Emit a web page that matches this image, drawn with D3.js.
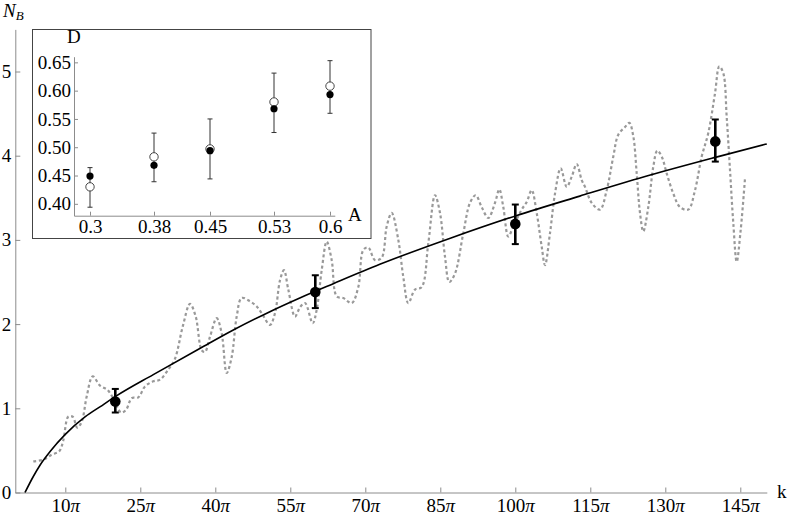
<!DOCTYPE html>
<html>
<head>
<meta charset="utf-8" />
<title></title>
<style>
html, body {
    padding: 0px;
    margin: 0px;
    background: #fff;
}
</style>
</head>
<body>
<svg id="chart" width="789" height="518" font-family="'Liberation Serif', 'Times New Roman', serif"></svg>

<script src="https://cdnjs.cloudflare.com/ajax/libs/d3/7.8.5/d3.min.js"></script>
<script>
// main plot: k in units of pi
var xTicks = [10, 25, 40, 55, 70, 85, 100, 115, 130, 145];
var yTicks = [0, 1, 2, 3, 4, 5];

// fitted curve
var fitK = [1.94, 3.6, 5, 7, 10, 14, 17, 20.3, 27.6, 36.9, 43.6, 50.3, 56.9, 63.6, 72.9, 87, 100.3, 112.9, 127, 140, 150.3];
var fitN = [0, 0.19, 0.33, 0.49, 0.69, 0.9, 1.02, 1.15, 1.4, 1.71, 1.93, 2.13, 2.31, 2.48, 2.71, 3.02, 3.29, 3.52, 3.77, 3.98, 4.14];

// dotted grey series
var dotK = [3.6, 5.6, 7.28, 8.8, 9.6, 10.6, 11.48, 12.4, 13.28, 14.28, 15.48, 16.94, 18.4, 19.6, 21.14, 22.14, 23.28, 24.6, 25.94, 27.6,
    28.94, 30.6, 31.94, 33.48, 34.94, 36.08, 37.28, 37.94, 38.94, 40.28, 41.28, 42.28, 43.28, 44.28, 45.28, 46.94, 48.28, 49.28, 50.94, 51.94,
    52.94, 53.74, 54.6, 55.94, 56.94, 57.94, 59.48, 60.28, 61.28, 62.28, 63.28, 64.28, 65.6, 67.28, 68.6, 69.6, 70.6, 71.94, 73.28, 74.28,
    75.28, 76.6, 77.6, 78.6, 79.94, 81.28, 82.6, 83.94, 84.94, 85.94, 86.8, 87.94, 89.6, 90.94, 92.08, 93.28, 94.6, 95.94, 96.8, 97.6,
    98.6, 99.6, 101.28, 102.28, 103.28, 104.28, 105.28, 105.94, 106.94, 107.94, 109.08, 110.28, 111.28, 112.28, 113.28, 113.94, 115.28, 116.94, 118.28, 119.6,
    120.6, 121.94, 122.8, 123.6, 124.28, 124.94, 125.6, 126.6, 127.6, 128.4, 129.28, 130.28, 131.6, 132.94, 134.6, 135.94, 137.28, 138.6, 139.94, 140.8,
    141.6, 142.28, 142.94, 143.6, 144.28, 145.08, 145.94];
var dotN = [0.37, 0.39, 0.45, 0.49, 0.62, 0.9, 0.9, 0.77, 0.84, 1.14, 1.38, 1.27, 1.22, 1.12, 0.95, 0.98, 1.12, 1.13, 1.26, 1.32,
    1.34, 1.46, 1.59, 1.97, 2.24, 2.09, 1.69, 1.67, 1.85, 2.07, 1.89, 1.42, 1.61, 2.09, 2.31, 2.27, 2.21, 2.13, 1.99, 2.13,
    2.52, 2.64, 2.41, 2.09, 2.2, 2.25, 2.01, 2.17, 2.64, 2.98, 2.76, 2.33, 2.31, 2.25, 2.44, 2.88, 2.91, 2.76, 2.79, 3.16,
    3.32, 3.0, 2.56, 2.25, 2.41, 2.44, 2.96, 3.53, 3.32, 2.8, 2.5, 2.6, 3.08, 3.44, 3.53, 3.39, 3.26, 3.44, 3.6, 3.39,
    3.04, 3.16, 3.36, 3.45, 3.59, 3.32, 2.92, 2.7, 3.08, 3.55, 3.85, 3.63, 3.75, 3.9, 3.71, 3.63, 3.44, 3.36, 3.59, 3.99,
    4.25, 4.34, 4.39, 4.23, 3.79, 3.32, 3.1, 3.39, 3.87, 4.06, 3.99, 3.79, 3.55, 3.39, 3.36, 3.59, 3.99, 4.27, 4.74, 5.06,
    4.98, 4.46, 3.83, 3.2, 2.74, 3.12, 3.73];

// large points with error bars
var ptK = [20, 60, 100, 140];
var ptN = [1.08, 2.38, 3.19, 4.17];
var ptLo = [0.95, 2.19, 2.95, 3.93];
var ptHi = [1.23, 2.58, 3.42, 4.43];

// inset
var insetA = [0.3, 0.38, 0.45, 0.53, 0.6];
var insetALabels = ["0.3", "0.38", "0.45", "0.53", "0.6"];
var insetDTicks = [0.40, 0.45, 0.50, 0.55, 0.60, 0.65];
var filledD = [0.449, 0.468, 0.494, 0.568, 0.593];
var openD = [0.430, 0.483, 0.497, 0.580, 0.608];
var openLo = [0.394, 0.439, 0.444, 0.526, 0.560];
var openHi = [0.464, 0.525, 0.550, 0.631, 0.653];

!(function(){
    "use strict"

    var FONT = "'Liberation Serif', 'Times New Roman', serif";
    var svg = d3.select("#chart");

    var x = d3.scaleLinear().domain([0, 150.3]).range([15.3, 766.8]);
    var y = d3.scaleLinear().domain([0, 5.5]).range([492.5, 29.4]);

    drawMainAxes();
    drawMainData();
    drawInset();

    function styleAxis(g, color) {
        g.attr("font-family", FONT).attr("font-size", 19);
        g.select(".domain").attr("stroke", color).attr("stroke-width", 1);
        g.selectAll(".tick line").attr("stroke", color).attr("stroke-width", 1);
        g.selectAll(".tick text").attr("fill", "#000");
    }

    function drawMainAxes() {
        var gx = svg.append("g")
            .attr("transform", "translate(0," + y(0) + ")")
            .call(d3.axisBottom(x).tickValues(xTicks).tickSizeInner(-5).tickSizeOuter(0).tickPadding(6.5));
        styleAxis(gx, "#8c8c8c");
        gx.selectAll(".tick text").each(function(d){
            var t = d3.select(this).text("");
            t.append("tspan").text(d);
            t.append("tspan").attr("font-style", "italic").text("\u03c0");
        });

        var gy = svg.append("g")
            .attr("transform", "translate(" + x(0) + ",0)")
            .call(d3.axisLeft(y).tickValues(yTicks).tickSizeInner(-5).tickSizeOuter(0).tickPadding(4).tickFormat(d3.format("d")));
        styleAxis(gy, "#8c8c8c");

        var nb = svg.append("text").attr("x", 3).attr("y", 17).attr("font-size", 19).attr("font-style", "italic");
        nb.append("tspan").text("N");
        nb.append("tspan").attr("font-size", 13).attr("dy", 3).text("B");

        svg.append("text").attr("x", 777).attr("y", 498).attr("font-size", 19).text("k");
    }

    function drawMainData() {
        var dotted = d3.line()
            .x(function(d){ return x(d[0]); })
            .y(function(d){ return y(d[1]); })
            .curve(d3.curveCatmullRom.alpha(0.5));

        svg.append("path")
            .datum(d3.zip(dotK, dotN))
            .attr("d", dotted)
            .attr("fill", "none")
            .attr("stroke", "#999")
            .attr("stroke-width", 2.2)
            .attr("stroke-dasharray", "3,2.6");

        var fit = d3.line()
            .x(function(d){ return x(d[0]); })
            .y(function(d){ return y(d[1]); })
            .curve(d3.curveMonotoneX);

        svg.append("path")
            .datum(d3.zip(fitK, fitN))
            .attr("d", fit)
            .attr("fill", "none")
            .attr("stroke", "#000")
            .attr("stroke-width", 1.6);

        var pts = d3.range(ptK.length);
        var g = svg.append("g");
        g.selectAll(null).data(pts).enter().append("line")
            .attr("x1", function(i){ return x(ptK[i]); })
            .attr("x2", function(i){ return x(ptK[i]); })
            .attr("y1", function(i){ return y(ptLo[i]); })
            .attr("y2", function(i){ return y(ptHi[i]); })
            .attr("stroke", "#000").attr("stroke-width", 2.6);
        [ptLo, ptHi].forEach(function(arr){
            g.selectAll(null).data(pts).enter().append("line")
                .attr("x1", function(i){ return x(ptK[i]) - 3.5; })
                .attr("x2", function(i){ return x(ptK[i]) + 3.5; })
                .attr("y1", function(i){ return y(arr[i]); })
                .attr("y2", function(i){ return y(arr[i]); })
                .attr("stroke", "#000").attr("stroke-width", 2);
        });
        g.selectAll(null).data(pts).enter().append("circle")
            .attr("cx", function(i){ return x(ptK[i]); })
            .attr("cy", function(i){ return y(ptN[i]); })
            .attr("r", 5.3)
            .attr("fill", "#000");
    }

    function drawInset() {
        var xi = d3.scaleLinear().domain([0.28, 0.606]).range([74, 334.8]);
        var yi = d3.scaleLinear().domain([0.379, 0.66]).range([215.7, 56.7]);

        svg.append("rect")
            .attr("x", 32.5).attr("y", 29.5)
            .attr("width", 338.5).attr("height", 209)
            .attr("fill", "#fff")
            .attr("stroke", "#444")
            .attr("stroke-width", 1);

        var gx = svg.append("g")
            .attr("transform", "translate(0," + yi.range()[0] + ")")
            .call(d3.axisBottom(xi).tickValues(insetA).tickSizeInner(-4).tickSizeOuter(0).tickPadding(4)
                .tickFormat(function(d, i){ return insetALabels[i]; }));
        styleAxis(gx, "#8c8c8c");

        var gy = svg.append("g")
            .attr("transform", "translate(" + xi.range()[0] + ",0)")
            .call(d3.axisLeft(yi).tickValues(insetDTicks).tickSizeInner(-4).tickSizeOuter(0).tickPadding(3)
                .tickFormat(d3.format(".2f")));
        styleAxis(gy, "#8c8c8c");

        svg.append("text").attr("x", 67).attr("y", 43).attr("font-size", 19).text("D");
        svg.append("text").attr("x", 348).attr("y", 221).attr("font-size", 19).text("A");

        var idx = d3.range(insetA.length);
        var g = svg.append("g");
        g.selectAll(null).data(idx).enter().append("line")
            .attr("x1", function(i){ return xi(insetA[i]); })
            .attr("x2", function(i){ return xi(insetA[i]); })
            .attr("y1", function(i){ return yi(openLo[i]); })
            .attr("y2", function(i){ return yi(openHi[i]); })
            .attr("stroke", "#333").attr("stroke-width", 1);
        [openLo, openHi].forEach(function(arr){
            g.selectAll(null).data(idx).enter().append("line")
                .attr("x1", function(i){ return xi(insetA[i]) - 2.5; })
                .attr("x2", function(i){ return xi(insetA[i]) + 2.5; })
                .attr("y1", function(i){ return yi(arr[i]); })
                .attr("y2", function(i){ return yi(arr[i]); })
                .attr("stroke", "#333").attr("stroke-width", 1);
        });
        g.selectAll(null).data(idx).enter().append("circle")
            .attr("cx", function(i){ return xi(insetA[i]); })
            .attr("cy", function(i){ return yi(openD[i]); })
            .attr("r", 4.2)
            .attr("fill", "#fff")
            .attr("stroke", "#444")
            .attr("stroke-width", 1);
        g.selectAll(null).data(idx).enter().append("circle")
            .attr("cx", function(i){ return xi(insetA[i]); })
            .attr("cy", function(i){ return yi(filledD[i]); })
            .attr("r", 3.6)
            .attr("fill", "#000");
    }

}());
</script>
</body>
</html>
